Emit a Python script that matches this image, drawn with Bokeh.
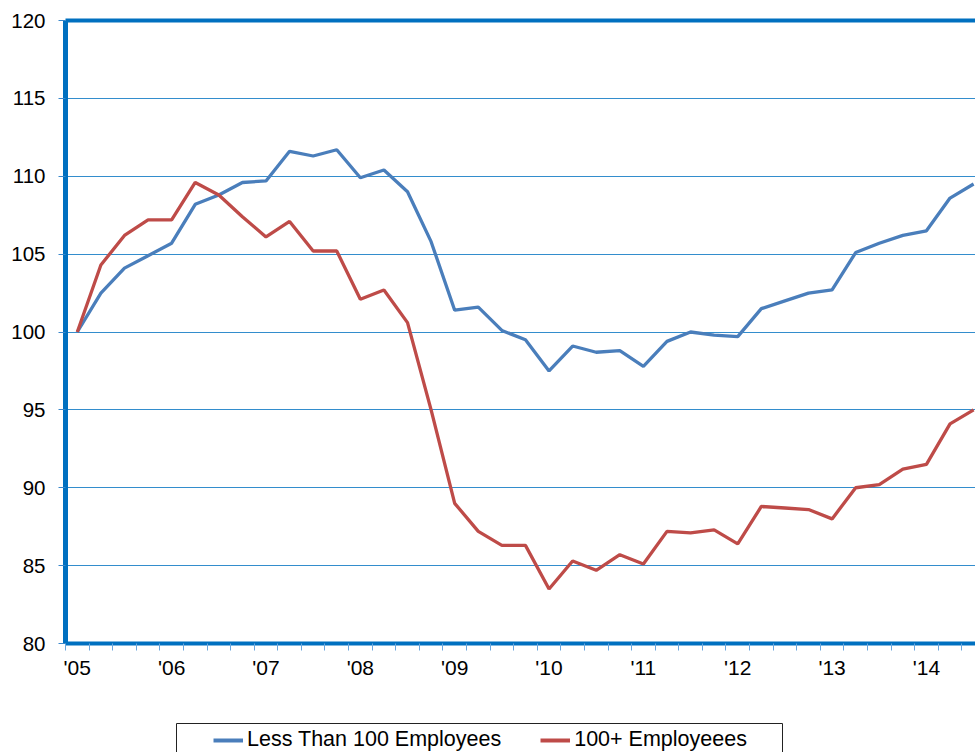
from bokeh.plotting import figure
from bokeh.layouts import column
from bokeh.models import FixedTicker, LinearAxis, Legend, LegendItem, Range1d
from bokeh.embed import file_html
from bokeh.resources import INLINE

# ---- data (quarterly index, 2005Q1 = 100) ----
years = ["'05", "'06", "'07", "'08", "'09", "'10", "'11", "'12", "'13", "'14"]
year_first_quarter = [0, 4, 8, 12, 16, 20, 24, 28, 32, 36]

less_than_100 = [100.0, 102.5, 104.1, 104.9, 105.7, 108.2, 108.8, 109.6, 109.7, 111.6,
                 111.3, 111.7, 109.9, 110.4, 109.0, 105.8, 101.4, 101.6, 100.1, 99.5,
                 97.5, 99.1, 98.7, 98.8, 97.8, 99.4, 100.0, 99.8, 99.7, 101.5,
                 102.0, 102.5, 102.7, 105.1, 105.7, 106.2, 106.5, 108.6, 109.5]
over_100 = [100.0, 104.3, 106.2, 107.2, 107.2, 109.6, 108.8, 107.4, 106.1, 107.1,
            105.2, 105.2, 102.1, 102.7, 100.6, 95.0, 89.0, 87.2, 86.3, 86.3,
            83.5, 85.3, 84.7, 85.7, 85.1, 87.2, 87.1, 87.3, 86.4, 88.8,
            88.7, 88.6, 88.0, 90.0, 90.2, 91.2, 91.5, 94.1, 95.0]
quarter_index = list(range(len(less_than_100)))
y_ticks = [80, 85, 90, 95, 100, 105, 110, 115, 120]
series_names = ["Less Than 100 Employees", "100+ Employeees"]
series_colors = ["#4A7EBB", "#BE4B48"]

AXIS = "#0070C0"
FONT = "Liberation Sans"

p = figure(width=975, height=700, output_backend="svg", toolbar_location=None,
           x_range=Range1d(-0.5, 38.08), y_range=Range1d(80, 120),
           min_border_left=65, min_border_right=0, min_border_top=20, min_border_bottom=57)
p.outline_line_color = None
p.frame_align = False

# grid
p.xgrid.visible = False
p.ygrid.ticker = FixedTicker(ticks=y_ticks[1:-1])
p.ygrid.grid_line_color = AXIS
p.ygrid.grid_line_width = 1
p.ygrid.grid_line_alpha = 0.8

# x axis
xa = p.xaxis[0]
xa.ticker = FixedTicker(ticks=year_first_quarter,
                        minor_ticks=[q - 0.5 for q in range(len(quarter_index) + 1)])
xa.major_label_overrides = {t: lab for t, lab in zip(year_first_quarter, years)}
xa.axis_line_color = AXIS
xa.axis_line_width = 4
xa.major_tick_line_color = None
xa.major_tick_out = 0
xa.major_tick_in = 0
xa.minor_tick_line_color = "#6AA6DC"
xa.minor_tick_line_width = 1
xa.minor_tick_out = 7
xa.minor_tick_in = 0
xa.major_label_standoff = 5
xa.major_label_text_font = FONT
xa.major_label_text_font_size = "21px"
xa.major_label_text_color = "black"

# y axis
ya = p.yaxis[0]
ya.ticker = FixedTicker(ticks=y_ticks)
ya.axis_line_color = AXIS
ya.axis_line_width = 5
ya.major_tick_line_color = "#3A88CC"
ya.major_tick_out = 7
ya.major_tick_in = 0
ya.minor_tick_line_color = None
ya.major_label_standoff = 13
ya.major_label_text_font = FONT
ya.major_label_text_font_size = "20.5px"
ya.major_label_text_color = "black"

# top border as an axis line
top = LinearAxis(ticker=FixedTicker(ticks=[]), axis_line_color=AXIS, axis_line_width=4,
                 major_tick_line_color=None, minor_tick_line_color=None,
                 major_label_text_font_size="0px")
p.add_layout(top, "above")

r1 = p.line(quarter_index, less_than_100, line_color=series_colors[0], line_width=3.3)
r2 = p.line(quarter_index, over_100, line_color=series_colors[1], line_width=3.3)

# ---- legend strip (its frame edges form the legend box) ----
q = figure(width=975, height=52, output_backend="svg", toolbar_location=None,
           x_range=Range1d(0, 1), y_range=Range1d(0, 1),
           min_border_left=176, min_border_right=193, min_border_top=23, min_border_bottom=0,
           x_axis_location=None, y_axis_location=None)
q.frame_align = False
q.outline_line_color = None
q.xgrid.visible = False
q.ygrid.visible = False
for side in ("left", "right", "above"):
    ax = LinearAxis(ticker=FixedTicker(ticks=[]), axis_line_color="#222222", axis_line_width=1,
                    major_tick_line_color=None, minor_tick_line_color=None,
                    major_label_text_font_size="0px")
    q.add_layout(ax, side)

# same series in the legend strip (fall outside its 0..1 view; used for legend swatches)
d1 = q.line(quarter_index, less_than_100, line_color=series_colors[0], line_width=4)
d2 = q.line(quarter_index, over_100, line_color=series_colors[1], line_width=4)
legend = Legend(items=[LegendItem(label=series_names[0], renderers=[d1]),
                       LegendItem(label=series_names[1], renderers=[d2])],
                orientation="horizontal", location=(37, 0), padding=0, margin=0,
                spacing=39, glyph_width=30, glyph_height=24, label_standoff=4,
                label_text_font=FONT, label_text_font_size="21.5px", label_text_color="black",
                border_line_color=None, background_fill_alpha=0)
q.add_layout(legend)

open("out.html", "w").write(file_html(column(p, q, spacing=0), INLINE))
